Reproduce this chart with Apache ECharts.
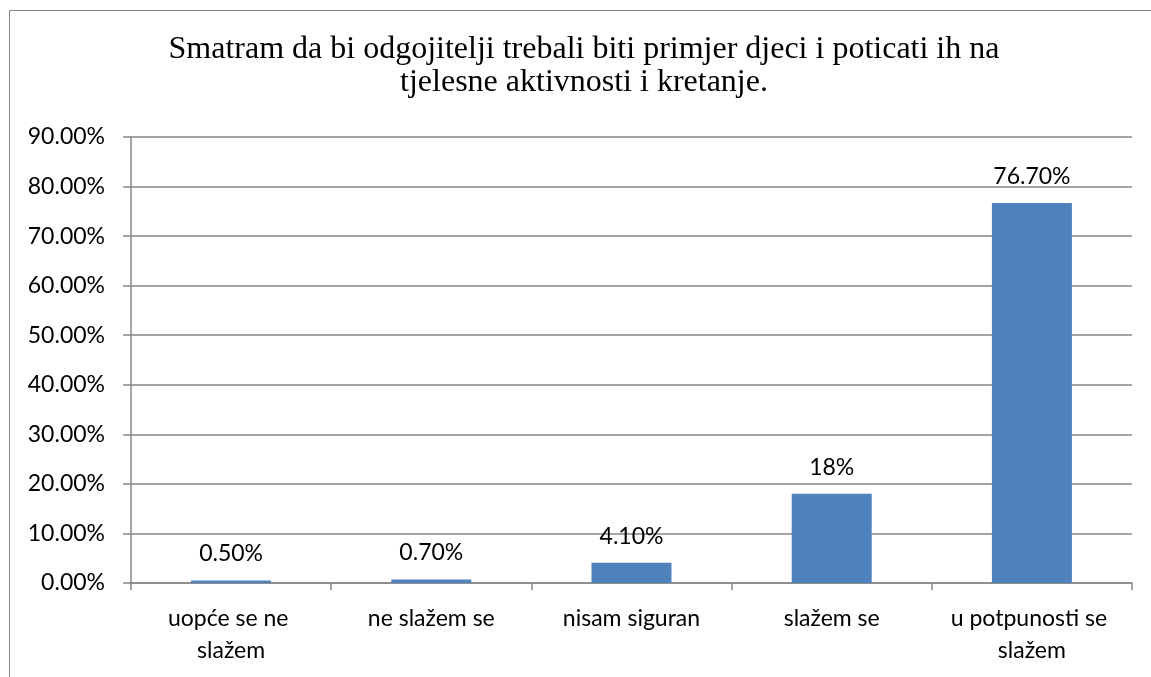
<!DOCTYPE html>
<html>
<head>
<meta charset="utf-8">
<script src="https://cdn.jsdelivr.net/npm/echarts@6/dist/echarts.min.js"></script>
<style>
  html, body { margin: 0; padding: 0; background: #fff; }
  #chart { width: 1151px; height: 677px; }
</style>
</head>
<body>
<div id="chart"></div>
<script>
// podaci s grafikona
const categories = ['uopće se ne slažem', 'ne slažem se', 'nisam siguran', 'slažem se', 'u potpunosti se slažem']
const values = [0.5, 0.7, 4.1, 18, 76.7]
const valueLabels = ['0.50%', '0.70%', '4.10%', '18%', '76.70%']
const titleText = 'Smatram da bi odgojitelji trebali biti primjer djeci i poticati ih na\ntjelesne aktivnosti i kretanje.'

const chart = echarts.init(document.getElementById('chart'))

const option = {
  animation: false,
  backgroundColor: '#fff',
  title: {
    text: titleText,
    left: 584,
    textAlign: 'center',
    top: 33,
    padding: 0,
    textStyle: {
      fontFamily: 'Liberation Serif',
      fontSize: 32,
      fontWeight: 'normal',
      color: '#000',
      lineHeight: 33
    }
  },
  graphic: [{
    type: 'rect',
    shape: { x: 9.5, y: 10.5, width: 1150, height: 720 },
    style: { fill: 'none', stroke: '#868686', lineWidth: 1 },
    silent: true
  }],
  grid: {
    left: 131,
    right: 19,
    top: 137,
    bottom: 94
  },
  xAxis: {
    type: 'category',
    data: categories,
    axisLine: { lineStyle: { color: '#868686', width: 1.5 } },
    axisTick: { show: true, length: 7, lineStyle: { color: '#868686', width: 1.5 } },
    axisLabel: {
      interval: 0,
      margin: 20,
      color: '#000',
      fontFamily: 'Lato',
      fontSize: 23,
      lineHeight: 32,
      width: 180,
      overflow: 'break'
    }
  },
  yAxis: {
    type: 'value',
    min: 0,
    max: 90,
    interval: 10,
    axisLine: { show: true, lineStyle: { color: '#868686', width: 1.5 } },
    axisTick: { show: true, length: 8, lineStyle: { color: '#868686', width: 1.5 } },
    splitLine: { lineStyle: { color: '#868686', width: 1.5 } },
    axisLabel: {
      margin: 26,
      color: '#000',
      fontFamily: 'Lato',
      fontSize: 23,
      formatter: function (v) { return v.toFixed(2) + '%' }
    }
  },
  series: [{
    type: 'bar',
    data: values,
    barWidth: 80,
    itemStyle: { color: '#4F81BD' },
    label: {
      show: true,
      position: 'top',
      distance: 15,
      color: '#000',
      fontFamily: 'Lato',
      fontSize: 23,
      formatter: function (p) { return valueLabels[p.dataIndex] }
    }
  }]
}

chart.setOption(option)
</script>
</body>
</html>
